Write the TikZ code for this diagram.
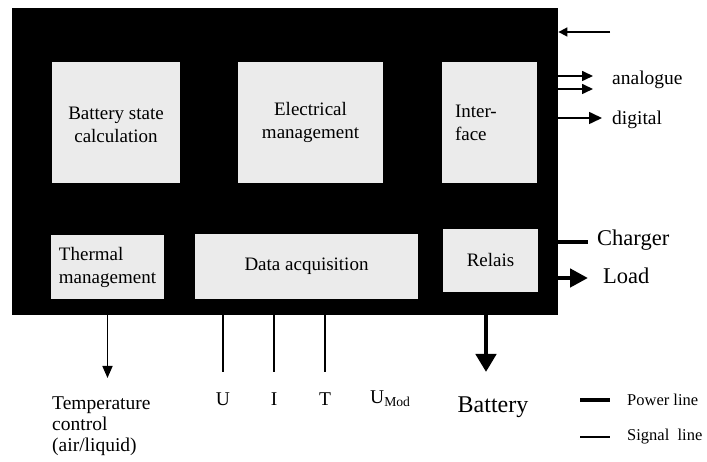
\documentclass[tikz,border=0pt]{standalone}
\usepackage{fontspec}
\setmainfont{Liberation Serif}
\usetikzlibrary{arrows.meta,positioning,calc}

\begin{document}
\begin{tikzpicture}[x=1pt,y=-1pt,
  unit/.style={fill=black!8, inner sep=0pt, align=center, font=\fontsize{19}{23}\selectfont},
  sig/.style={line width=1.6pt},
  pow/.style={line width=4.5pt},
  lbl/.style={inner sep=0pt, font=\fontsize{19.5}{21}\selectfont},
  big/.style={inner sep=0pt, font=\fontsize{22.5}{24}\selectfont},
  small/.style={inner sep=0pt, font=\fontsize{16.5}{18}\selectfont}]
\useasboundingbox (0,0) rectangle (707,462);
% controller housing
\node[fill=black, minimum width=546pt, minimum height=307pt, inner sep=0pt, anchor=north west] (bms) at (12,8) {};
% function blocks
\node[unit, minimum width=128pt, minimum height=121pt] (calc) at (116,122.5) {\\[-6pt]Battery state\\calculation};
\node[unit, minimum width=145pt, minimum height=121pt] (elec) at (310.5,122.5) {Electrical\\management};
\node[unit, minimum width=95pt, minimum height=121pt, align=left, text width=68pt] (iface) at (489,122.5) {Inter-\\face};
\node[unit, minimum width=113pt, minimum height=64pt, align=left] (therm) at (107.5,267) {Thermal\\management};
\node[unit, minimum width=223pt, minimum height=65pt] (daq) at (306.5,266.5) {Data acquisition};
\node[unit, minimum width=95pt, minimum height=63pt] (relais) at (490.5,260.5) {Relais};

% right side
\coordinate (ctlIn) at (610,32);
\coordinate (anaA) at (593,76);
\coordinate (anaB) at (593,89);
\coordinate (digOut) at (602,118);
\node[lbl, anchor=west] (anaLbl) at (612,80) {analogue};
\node[lbl, anchor=west] (digLbl) at (612,120) {digital};
\node[big, anchor=west] (chgLbl) at (597,240) {Charger};
\node[big, anchor=west] (loadLbl) at (603,276) {Load};
\draw[sig, -{Triangle[length=9pt, width=9pt]}] (ctlIn) -- (ctlIn -| bms.east);
\draw[sig, -{Triangle[length=11pt, width=10pt]}] (anaA -| bms.east) -- (anaA);
\draw[sig, -{Triangle[length=11pt, width=10pt]}] (anaB -| bms.east) -- (anaB);
\draw[sig, -{Triangle[length=13pt, width=12pt]}] (digOut -| bms.east) -- (digOut);
\draw[pow, shorten >=9pt] (bms.east |- 0,242) -- (chgLbl.west |- 0,242);
\draw[pow, -{Triangle[length=18pt, width=18pt]}, shorten >=15pt] (bms.east |- 0,278) -- (loadLbl.west |- 0,278);

% bottom side
\node[lbl, anchor=north west, align=left] (tempLbl) at (52,397) {Temperature\\control\\(air/liquid)};
\draw[sig, -{Triangle[length=12pt, width=10pt]}] (therm |- bms.south) -- (therm |- 0,378);
\node[lbl] (uLbl) at (223,399) {U};
\node[lbl] (iLbl) at (274,399) {I};
\node[lbl] (tLbl) at (325,399) {T};
\node[lbl, anchor=west] (umLbl) at (370,399) {U\textsubscript{Mod}};
\draw[sig] (uLbl |- bms.south) -- (uLbl |- 0,372);
\draw[sig] (iLbl |- bms.south) -- (iLbl |- 0,372);
\draw[sig] (tLbl |- bms.south) -- (tLbl |- 0,372);
\draw[sig] ($(umLbl.west)+(7,0)$ |- bms.south) -- ($(umLbl.west)+(7,0)$ |- 0,372);
\node[big, font=\fontsize{24}{26}\selectfont] (batLbl) at (493,407) {Battery};
\coordinate (batIn) at (486,372);
\draw[pow, -{Triangle[length=18pt, width=20pt]}] (batIn |- bms.south) -- (batIn);

% legend
\node[small, anchor=west] (powLbl) at (627,400) {Power line};
\node[small, anchor=west] (sigLbl) at (627,437) {Signal\ \ line};
\draw[pow] ($(powLbl.west)+(-47,0)$) -- ($(powLbl.west)+(-17,0)$);
\draw[sig] ($(sigLbl.west)+(-47,0)$) -- ($(sigLbl.west)+(-17,0)$);
\end{tikzpicture}
\end{document}
